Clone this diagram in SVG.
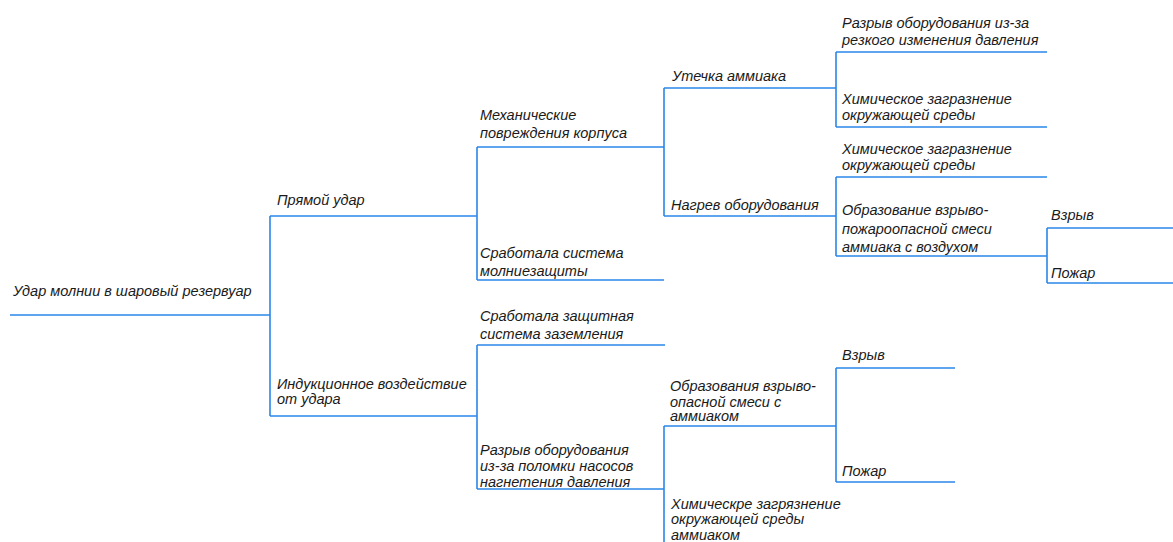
<svg xmlns="http://www.w3.org/2000/svg" width="1173" height="542" viewBox="0 0 1173 542">
<style>
text{font-family:"Liberation Sans",Arial,sans-serif;font-style:italic;font-size:14.5px;fill:#1a1a1a}
line{stroke:#2a86e8;stroke-width:1.6;fill:none}
</style>
<rect width="1173" height="542" fill="#fff"/>
<g id="connectors">
<line x1="270" y1="216" x2="270" y2="416"/>
<line x1="477" y1="147" x2="477" y2="280"/>
<line x1="477" y1="345" x2="477" y2="489"/>
<line x1="664" y1="88" x2="664" y2="216"/>
<line x1="836" y1="52" x2="836" y2="127"/>
<line x1="836" y1="177" x2="836" y2="256"/>
<line x1="1047" y1="228" x2="1047" y2="283"/>
<line x1="664" y1="426" x2="664" y2="542"/>
<line x1="836" y1="368" x2="836" y2="482"/>
</g>
<g id="root"><line x1="10" y1="315" x2="270" y2="315"/><text x="13" y="296">Удар молнии в шаровый резервуар</text></g>
<g id="direct"><line x1="270" y1="216" x2="477" y2="216"/><text x="277" y="205">Прямой удар</text></g>
<g id="induction"><line x1="270" y1="416" x2="477" y2="416"/><text x="277" y="389">Индукционное воздействие</text><text x="277" y="404">от удара</text></g>
<g id="mech"><line x1="477" y1="147" x2="664" y2="147"/><text x="480" y="120">Механические</text><text x="480" y="138">повреждения корпуса</text></g>
<g id="lightning"><line x1="477" y1="280" x2="664" y2="280"/><text x="480" y="258">Сработала система</text><text x="480" y="276">молниезащиты</text></g>
<g id="grounding"><line x1="477" y1="345" x2="665" y2="345"/><text x="480" y="321">Сработала защитная</text><text x="480" y="339">система заземления</text></g>
<g id="rupture"><line x1="477" y1="489" x2="664" y2="489"/><text x="480" y="455">Разрыв оборудования</text><text x="480" y="471">из-за поломки насосов</text><text x="480" y="487">нагнетения давления</text></g>
<g id="leak"><line x1="664" y1="88" x2="836" y2="88"/><text x="672" y="81">Утечка аммиака</text></g>
<g id="heat"><line x1="664" y1="216" x2="836" y2="216"/><text x="671" y="210">Нагрев оборудования</text></g>
<g id="rupture2"><line x1="836" y1="52" x2="1047" y2="52"/><text x="842" y="28">Разрыв оборудования из-за</text><text x="842" y="45">резкого изменения давления</text></g>
<g id="chem1"><line x1="836" y1="127" x2="1047" y2="127"/><text x="842" y="104">Химическое загразнение</text><text x="842" y="120">окружающей среды</text></g>
<g id="chem2"><line x1="836" y1="177" x2="1047" y2="177"/><text x="842" y="154">Химическое загразнение</text><text x="842" y="170">окружающей среды</text></g>
<g id="mix1"><line x1="836" y1="256" x2="1047" y2="256"/><text x="842" y="215">Образование взрыво-</text><text x="842" y="234">пожароопасной смеси</text><text x="842" y="252">аммиака с воздухом</text></g>
<g id="explosion1"><line x1="1047" y1="228" x2="1173" y2="228"/><text x="1051" y="220">Взрыв</text></g>
<g id="fire1"><line x1="1047" y1="283" x2="1173" y2="283"/><text x="1051" y="278">Пожар</text></g>
<g id="mix2"><line x1="664" y1="426" x2="836" y2="426"/><text x="670" y="391">Образования взрыво-</text><text x="670" y="407">опасной смеси с</text><text x="670" y="421">аммиаком</text></g>
<g id="chem3"><text x="671" y="509">Химическре загрязнение</text><text x="671" y="524">окружающей среды</text><text x="671" y="540">аммиаком</text></g>
<g id="explosion2"><line x1="836" y1="368" x2="955" y2="368"/><text x="842" y="360">Взрыв</text></g>
<g id="fire2"><line x1="836" y1="482" x2="955" y2="482"/><text x="842" y="476">Пожар</text></g>
</svg>
